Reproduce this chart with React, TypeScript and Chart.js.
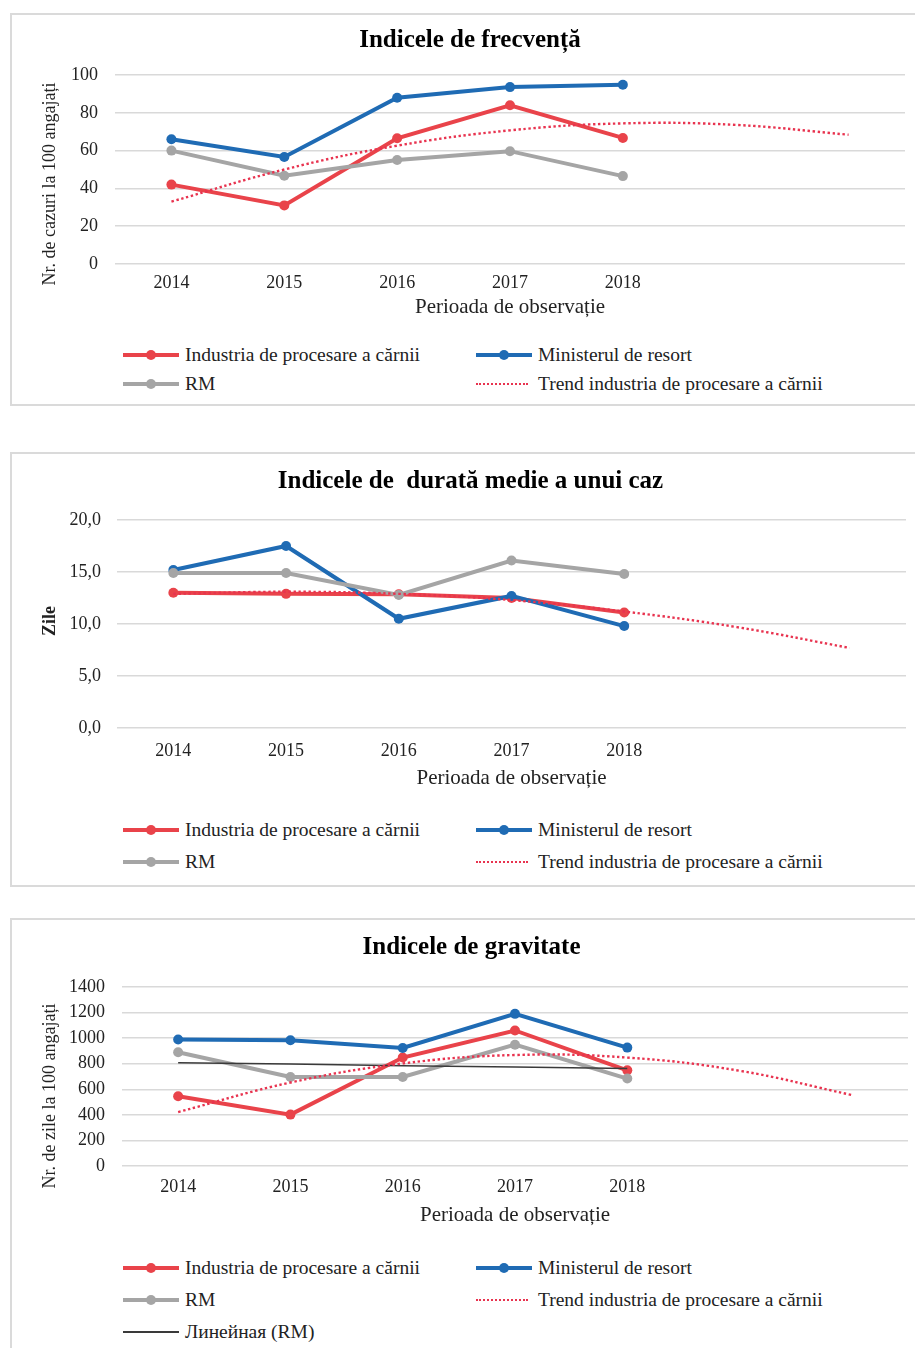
import React, { useEffect, useRef } from "react";
import { Chart, registerables } from "chart.js";

Chart.register(...registerables);

const FONT = "'Liberation Serif', 'Times New Roman', serif";

// Shared categories (two empty periods for trend forecast)
const years = ["2014", "2015", "2016", "2017", "2018", "", ""];

// Series names
const nameIndustria = "Industria de procesare a cărnii";
const nameMinister = "Ministerul de resort";
const nameRM = "RM";
const nameTrend = "Trend industria de procesare a cărnii";
const nameLinRM = "Линейная (RM)";
const xAxisTitle = "Perioada de observație";

// Chart 1 – Indicele de frecvență
const frecIndustria = [42, 31, 66.5, 84, 66.7, null, null];
const frecMinister = [66, 56.6, 88, 93.6, 94.8, null, null];
const frecRM = [60, 46.7, 55, 59.7, 46.5, null, null];
const frecTrend = [33, 50, 62.6, 70.7, 74.4, 73.6, 68.4];

// Chart 2 – Indicele de durată medie a unui caz
const durIndustria = [13.0, 12.9, 12.85, 12.5, 11.1, null, null];
const durMinister = [15.2, 17.5, 10.5, 12.7, 9.8, null, null];
const durRM = [14.9, 14.9, 12.8, 16.1, 14.8, null, null];
const durTrend = [12.9, 13.1, 12.9, 12.3, 11.2, 9.7, 7.7];

// Chart 3 – Indicele de gravitate
const gravIndustria = [545, 402, 848, 1060, 748, null, null];
const gravMinister = [990, 983, 923, 1190, 926, null, null];
const gravRM = [890, 696, 696, 949, 684, null, null];
const gravTrend = [422, 653, 802, 868, 848, 745, 555];
const gravLinRM = [808, 797, 785, 774, 762, null, null];

const RED = "#e9434a";
const BLUE = "#1f6bb4";
const GRAY = "#a5a5a5";
const TREND = "#e8334f";
const LIN = "#3a3a3a";
const TEXT = "#222";

type DS = { label: string; data: (number | null)[]; color: string; kind: "series" | "trend" | "linear"; order: number };

type Spec = {
  boxTop: number;
  boxBottom: number;
  title: string;
  titleY: number;
  areaLeft: number;
  areaRight: number;
  areaTop: number;
  areaBottom: number;
  tickY: number;
  xTitleY: number;
  yTitle: string;
  yTitleBold: boolean;
  yTitleX: number;
  yTitleY: number;
  yLabelRight: number;
  yMax: number;
  yStep: number;
  fmt: (v: number) => string;
  datasets: DS[];
  legend: { x: number; y: number; ds: DS }[];
};

const mk = (label: string, data: (number | null)[], color: string, kind: DS["kind"], order: number): DS => ({ label, data, color, kind, order });

function buildDatasets(a: (number | null)[], b: (number | null)[], c: (number | null)[], t: (number | null)[], lin?: (number | null)[]) {
  const list: DS[] = [
    mk(nameIndustria, a, RED, "series", 3),
    mk(nameMinister, b, BLUE, "series", 2),
    mk(nameRM, c, GRAY, "series", 1),
    mk(nameTrend, t, TREND, "trend", 0),
  ];
  if (lin) list.push(mk(nameLinRM, lin, LIN, "linear", 0));
  return list;
}

const ds1 = buildDatasets(frecIndustria, frecMinister, frecRM, frecTrend);
const ds2 = buildDatasets(durIndustria, durMinister, durRM, durTrend);
const ds3 = buildDatasets(gravIndustria, gravMinister, gravRM, gravTrend, gravLinRM);

const legendPos = (ds: DS[], r1: number, r2: number, r3?: number) => {
  const out = [
    { x: 123, y: r1, ds: ds[0] },
    { x: 476, y: r1, ds: ds[1] },
    { x: 123, y: r2, ds: ds[2] },
    { x: 476, y: r2, ds: ds[3] },
  ];
  if (ds[4] && r3 !== undefined) out.push({ x: 123, y: r3, ds: ds[4] });
  return out;
};

const specs: Spec[] = [
  {
    boxTop: 13, boxBottom: 406, title: "Indicele de frecvență", titleY: 41,
    areaLeft: 115, areaRight: 905, areaTop: 75, areaBottom: 264,
    tickY: 283, xTitleY: 307, yTitle: "Nr. de cazuri la 100 angajați", yTitleBold: false, yTitleX: 50, yTitleY: 184, yLabelRight: 98,
    yMax: 100, yStep: 20, fmt: (v) => String(v), datasets: ds1, legend: legendPos(ds1, 355, 384),
  },
  {
    boxTop: 452, boxBottom: 887, title: "Indicele de  durată medie a unui caz", titleY: 482,
    areaLeft: 117, areaRight: 906, areaTop: 520, areaBottom: 728,
    tickY: 751.5, xTitleY: 778, yTitle: "Zile", yTitleBold: true, yTitleX: 50, yTitleY: 621, yLabelRight: 101,
    yMax: 20, yStep: 5, fmt: (v) => Number(v).toFixed(1).replace(".", ","), datasets: ds2, legend: legendPos(ds2, 830, 862),
  },
  {
    boxTop: 918, boxBottom: 1370, title: "Indicele de gravitate", titleY: 948,
    areaLeft: 122, areaRight: 908, areaTop: 987, areaBottom: 1166,
    tickY: 1187, xTitleY: 1215, yTitle: "Nr. de zile la 100 angajați", yTitleBold: false, yTitleX: 50, yTitleY: 1096, yLabelRight: 105,
    yMax: 1400, yStep: 200, fmt: (v) => String(v), datasets: ds3, legend: legendPos(ds3, 1268, 1300, 1332),
  },
];

const Ft = 25;
const Ftick = 18;
const Fxt = 21;
const Fyt = 18;
const Fleg = 19.5;

function LineChart({ spec }: { spec: Spec }) {
  const ref = useRef<HTMLCanvasElement | null>(null);
  const ct = spec.boxTop + 2;
  const canvasH = Math.round(spec.xTitleY - ct + 0.6 * Fxt + 4);

  useEffect(() => {
    if (!ref.current) return;
    const padL = 35;
    const padR = 915 - spec.areaRight;
    const titleC = spec.titleY - ct;
    const padT = titleC - 0.6 * Ft;
    const titlePb = spec.areaTop - ct - padT - 1.2 * Ft;
    const areaBottomC = spec.areaBottom - ct;
    const xH = canvasH - areaBottomC;
    const yW = spec.areaLeft - padL;

    // Draws the rotated value-axis title at its position in the reference
    const yTitlePlugin = {
      id: "yTitleCustom",
      afterDraw(chart: any) {
        const ctx = chart.ctx;
        ctx.save();
        ctx.font = `${spec.yTitleBold ? "bold " : ""}${Fyt}px ${FONT}`;
        ctx.fillStyle = TEXT;
        ctx.textAlign = "center";
        ctx.textBaseline = "middle";
        ctx.translate(spec.yTitleX, spec.yTitleY - ct);
        ctx.rotate(-Math.PI / 2);
        ctx.fillText(spec.yTitle, 0, 0);
        ctx.restore();
      },
    };

    const chart = new Chart(ref.current, {
      type: "line",
      data: {
        labels: years,
        datasets: spec.datasets.map((d) => {
          if (d.kind === "series") {
            return {
              label: d.label, data: d.data, order: d.order,
              borderColor: d.color, backgroundColor: d.color,
              borderWidth: 4, pointRadius: 5, pointHoverRadius: 5,
              pointBackgroundColor: d.color, pointBorderWidth: 0,
              tension: 0, spanGaps: false,
            };
          }
          if (d.kind === "trend") {
            return {
              label: d.label, data: d.data, order: d.order,
              borderColor: d.color, backgroundColor: d.color,
              borderWidth: 2.4, borderDash: [2.4, 2.6], pointRadius: 0,
              tension: 0.4,
            };
          }
          return {
            label: d.label, data: d.data, order: d.order,
            borderColor: d.color, backgroundColor: d.color,
            borderWidth: 1.5, pointRadius: 0, tension: 0,
          };
        }),
      },
      options: {
        animation: false,
        responsive: false,
        devicePixelRatio: 1,
        layout: { padding: { left: padL, right: padR, top: padT, bottom: 0 } },
        plugins: {
          legend: { display: false },
          tooltip: { enabled: false },
          title: {
            display: true,
            text: spec.title,
            color: "#000",
            font: { family: FONT, size: Ft, weight: "bold", lineHeight: 1.2 },
            padding: { top: 0, bottom: titlePb },
          },
        },
        scales: {
          x: {
            offset: true,
            grid: { display: false, drawTicks: false },
            border: { display: false },
            ticks: {
              autoSkip: false, maxRotation: 0, color: TEXT,
              font: { family: FONT, size: Ftick, lineHeight: 1.2 },
              padding: spec.tickY - spec.areaBottom - 0.6 * Ftick,
            },
            title: {
              display: true, text: xAxisTitle, color: TEXT,
              font: { family: FONT, size: Fxt, lineHeight: 1.2 },
              padding: { top: 0, bottom: 4 },
            },
            afterFit: (s: any) => { s.height = xH; },
          },
          y: {
            min: 0,
            max: spec.yMax,
            grid: { color: "#d9d9d9", lineWidth: 1.5, drawTicks: false },
            border: { display: false },
            ticks: {
              stepSize: spec.yStep, color: TEXT,
              font: { family: FONT, size: Ftick, lineHeight: 1.2 },
              padding: spec.areaLeft - spec.yLabelRight,
              callback: (v: any) => spec.fmt(Number(v)),
            },
            title: { display: false },
            afterFit: (s: any) => { s.width = yW; },
          },
        },
      } as any,
      plugins: [yTitlePlugin],
    });
    return () => chart.destroy();
  }, []);

  return (
    <>
      <div
        style={{
          position: "absolute", left: 10, top: spec.boxTop, width: 930,
          height: spec.boxBottom - spec.boxTop, border: "2px solid #dadada",
          boxSizing: "border-box", background: "#fff",
        }}
      />
      <canvas
        ref={ref}
        width={915}
        height={canvasH}
        style={{ position: "absolute", left: 0, top: ct, width: 915, height: canvasH }}
      />
      {spec.legend.map((it, i) => (
        <LegendItem key={i} x={it.x} y={it.y} ds={it.ds} />
      ))}
    </>
  );
}

function LegendItem({ x, y, ds }: { x: number; y: number; ds: DS }) {
  let marker: React.ReactNode;
  if (ds.kind === "series") {
    marker = (
      <>
        <div style={{ position: "absolute", left: 0, top: 10, width: 56, height: 4, background: ds.color }} />
        <div style={{ position: "absolute", left: 23, top: 7, width: 10, height: 10, borderRadius: "50%", background: ds.color }} />
      </>
    );
  } else if (ds.kind === "trend") {
    marker = <div style={{ position: "absolute", left: 0, top: 11, width: 52, height: 0, borderTop: `2px dotted ${ds.color}` }} />;
  } else {
    marker = <div style={{ position: "absolute", left: 0, top: 11, width: 56, height: 1.5, background: ds.color }} />;
  }
  return (
    <div style={{ position: "absolute", left: x, top: y - 12, height: 24, display: "flex", alignItems: "center" }}>
      <div style={{ position: "relative", width: 56, height: 24, flex: "none" }}>{marker}</div>
      <span style={{ marginLeft: 6, fontFamily: FONT, fontSize: Fleg, lineHeight: "24px", color: TEXT, whiteSpace: "nowrap" }}>
        {ds.label}
      </span>
    </div>
  );
}

export default function App() {
  return (
    <div style={{ position: "absolute", left: 0, top: 0, width: 915, height: 1348, overflow: "hidden", background: "#fff" }}>
      {specs.map((s, i) => (
        <LineChart key={i} spec={s} />
      ))}
    </div>
  );
}
